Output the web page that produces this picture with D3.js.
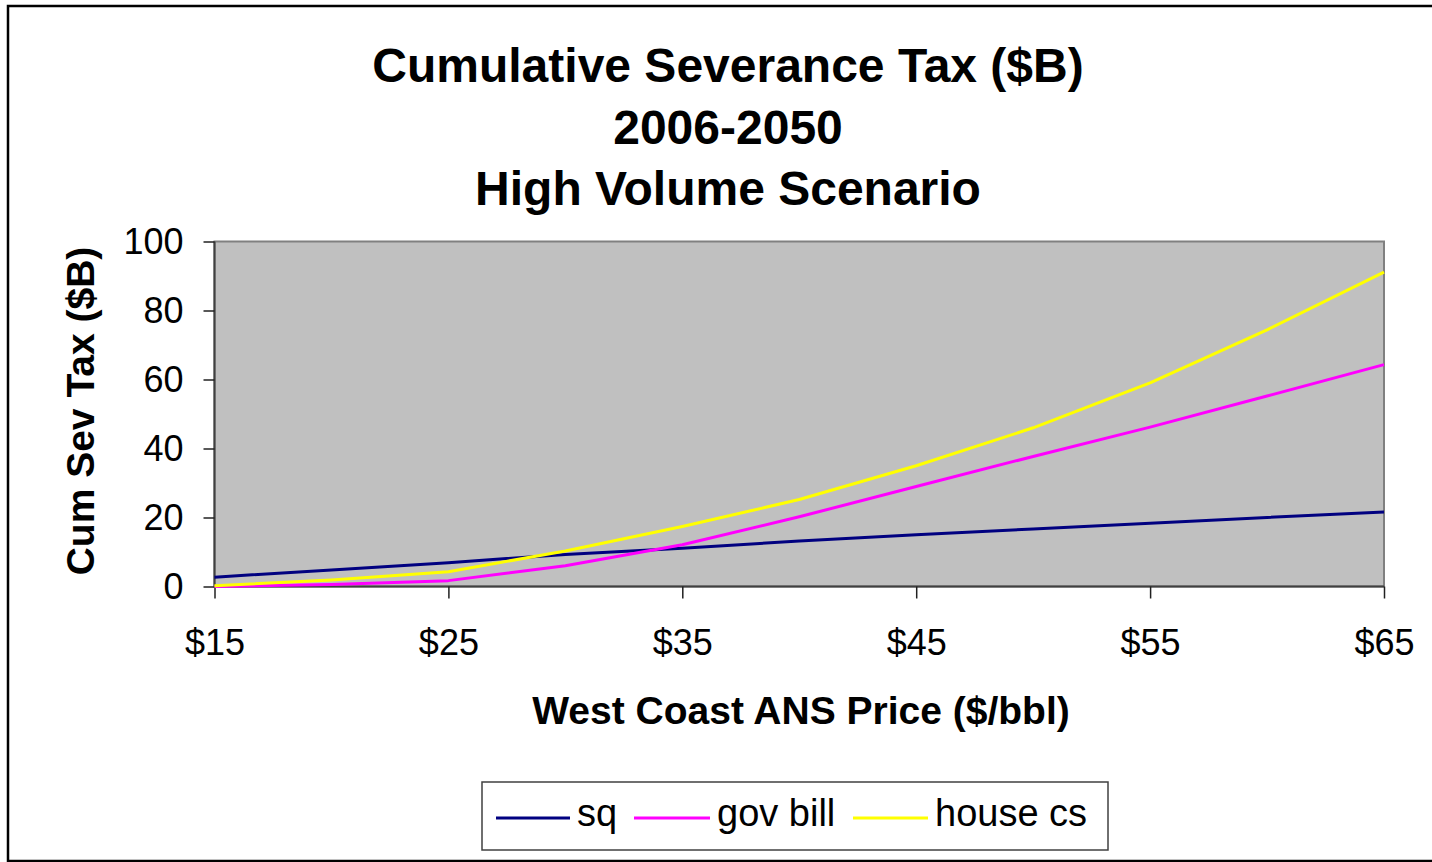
<!DOCTYPE html>
<html>
<head>
<meta charset="utf-8">
<script src="https://cdn.jsdelivr.net/npm/d3@7"></script>
<style>
  html, body { margin: 0; padding: 0; background: #fff; }
  svg { display: block; font-family: "Liberation Sans", Arial, sans-serif; }
</style>
</head>
<body>
<script>
// West Coast ANS price points ($/bbl)
const prices = [15, 20, 25, 30, 35, 40, 45, 50, 55, 60, 65];
// Cumulative severance tax 2006-2050 ($B) per scenario
const sq       = [2.7, 4.8, 6.9, 9.3, 11.1, 13.2, 15.0, 16.7, 18.3, 20.0, 21.6];
const govBill  = [0.0, 0.6, 1.7, 6.0, 12.1, 20.2, 29.0, 37.7, 46.2, 55.2, 64.3];
const houseCs  = [0.2, 1.9, 4.3, 10.3, 17.4, 25.2, 35.0, 46.0, 59.0, 74.4, 91.1];

const seriesNames  = ["sq", "gov bill", "house cs"];
const seriesColors = ["#000080", "#FF00FF", "#FFFF00"];
const xTicks = [15, 25, 35, 45, 55, 65];
const yTicks = [0, 20, 40, 60, 80, 100];
const titleLines = ["Cumulative Severance Tax ($B)", "2006-2050", "High Volume Scenario"];

const W = 1432, H = 862;
const plot = { left: 214.5, right: 1384, top: 241.5, bottom: 586.5 };

const svg = d3.select("body").append("svg").attr("width", W).attr("height", H);

// outer frame
svg.append("rect")
  .attr("x", 8).attr("y", 6).attr("width", 1432).attr("height", 855)
  .attr("fill", "#fff").attr("stroke", "#000").attr("stroke-width", 2.5);

const x = d3.scaleLinear().domain([15, 65]).range([plot.left, plot.right]);
const y = d3.scaleLinear().domain([0, 100]).range([plot.bottom, plot.top]);

// plot area background and frame
svg.append("rect")
  .attr("x", plot.left).attr("y", plot.top)
  .attr("width", plot.right - plot.left).attr("height", plot.bottom - plot.top)
  .attr("fill", "#C0C0C0").attr("stroke", "#808080").attr("stroke-width", 2);

// title
svg.append("text")
  .attr("text-anchor", "middle")
  .attr("font-weight", "bold").attr("font-size", 48)
  .selectAll("tspan").data(titleLines).join("tspan")
  .attr("x", 728).attr("y", (d, i) => 82 + i * 61.5)
  .text(d => d);

// axes
const yAxis = d3.axisLeft(y).tickValues(yTicks).tickSize(11).tickPadding(20);
const xAxis = d3.axisBottom(x).tickValues(xTicks).tickSize(12).tickPadding(31)
  .tickFormat(d => "$" + d);

const gy = svg.append("g").attr("transform", `translate(${plot.left},0)`).call(yAxis);
const gx = svg.append("g").attr("transform", `translate(0,${plot.bottom})`).call(xAxis);

[gx, gy].forEach(g => {
  g.select(".domain").attr("stroke", "#404040").attr("stroke-width", 2);
  g.selectAll(".tick line").attr("stroke", "#202020").attr("stroke-width", 1.5);
  g.selectAll(".tick text")
    .attr("font-family", "'Liberation Sans', Arial, sans-serif")
    .attr("font-size", 36).attr("fill", "#000");
});
gy.select(".domain").attr("d", `M0,${plot.bottom}V${plot.top}`);
gx.select(".domain").attr("d", `M${plot.left},0H${plot.right}`);

// axis titles
svg.append("text")
  .attr("x", 801).attr("y", 724)
  .attr("text-anchor", "middle")
  .attr("font-weight", "bold").attr("font-size", 39)
  .text("West Coast ANS Price ($/bbl)");

svg.append("text")
  .attr("transform", "translate(94,411) rotate(-90)")
  .attr("text-anchor", "middle")
  .attr("font-weight", "bold").attr("font-size", 39)
  .text("Cum Sev Tax ($B)");

// series lines
const seriesData = [sq, govBill, houseCs];
const line = d3.line().x(d => x(d.p)).y(d => y(d.v));
seriesData.forEach((vals, i) => {
  svg.append("path")
    .datum(prices.map((p, j) => ({ p, v: vals[j] })))
    .attr("d", line)
    .attr("fill", "none")
    .attr("stroke", seriesColors[i])
    .attr("stroke-width", 3)
    .attr("stroke-linejoin", "round");
});

// legend
const legend = svg.append("g");
legend.append("rect")
  .attr("x", 482).attr("y", 782).attr("width", 626).attr("height", 68)
  .attr("fill", "#fff").attr("stroke", "#404040").attr("stroke-width", 1.5);

const legendItems = [
  { x0: 496, x1: 570, tx: 577 },
  { x0: 634, x1: 710, tx: 717 },
  { x0: 853, x1: 928, tx: 935 }
];
legendItems.forEach((it, i) => {
  legend.append("line")
    .attr("x1", it.x0).attr("x2", it.x1).attr("y1", 818).attr("y2", 818)
    .attr("stroke", seriesColors[i]).attr("stroke-width", 3);
  legend.append("text")
    .attr("x", it.tx).attr("y", 826)
    .attr("font-size", 38)
    .text(seriesNames[i]);
});
</script>
</body>
</html>
